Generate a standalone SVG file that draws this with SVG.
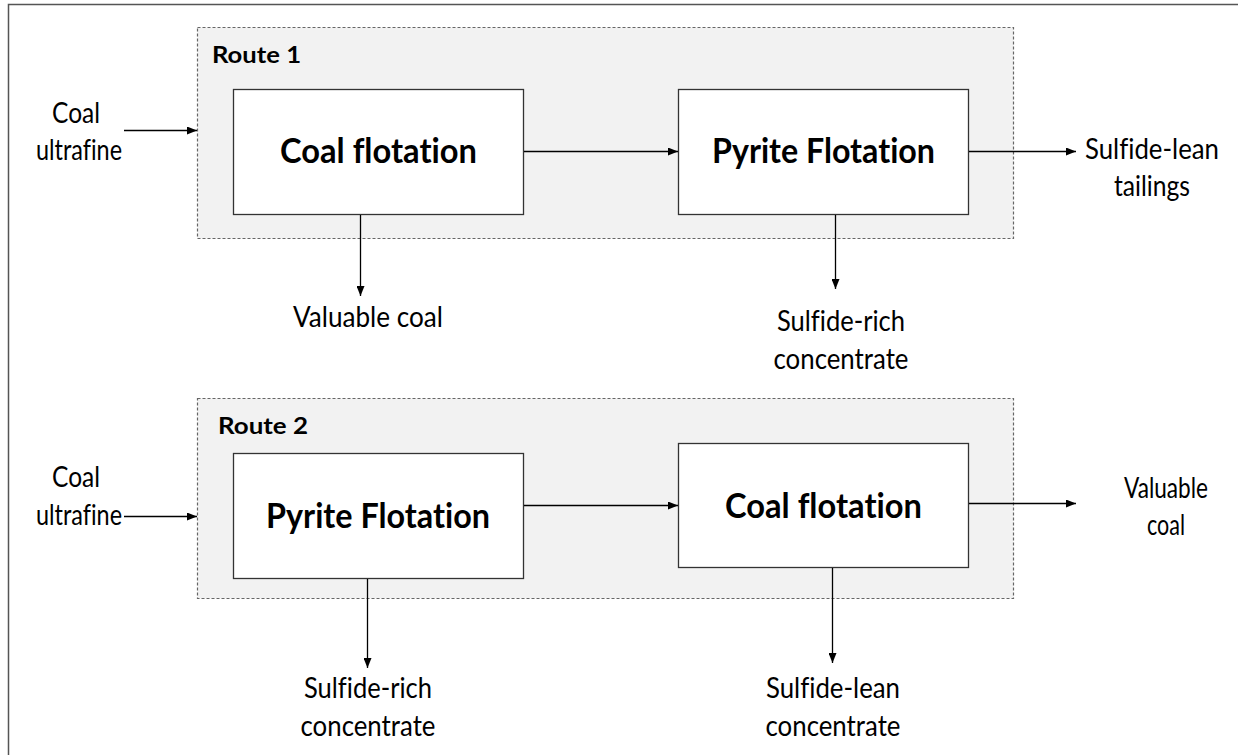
<svg xmlns="http://www.w3.org/2000/svg" width="1238" height="755" viewBox="0 0 1238 755">
<defs>
<marker id="ah" viewBox="0 0 10 8" refX="10" refY="4" markerWidth="10" markerHeight="8" markerUnits="userSpaceOnUse" orient="auto">
<path d="M0,0 L10,4 L0,8 Z" fill="#000"/>
</marker>
<style>
text{font-variant-ligatures:none;font-feature-settings:"liga" 0,"clig" 0,"dlig" 0}
.frame{fill:none;stroke:#555;stroke-width:1.5}
.route{fill:#f2f2f2;stroke:#666;stroke-width:1.2;stroke-dasharray:3,2}
.box{fill:#fff;stroke:#333;stroke-width:1.3}
.conn{fill:none;stroke:#000;stroke-width:1.3;marker-end:url(#ah)}
.lbl{font-family:Lato,"Liberation Sans",sans-serif;font-size:28px;fill:#000;text-anchor:middle}
.big{font-family:Lato,"Liberation Sans",sans-serif;font-size:34px;font-weight:bold;fill:#000;text-anchor:middle}
.rt{font-family:Lato,"Liberation Sans",sans-serif;font-size:23px;font-weight:bold;fill:#000}
</style>
</defs>
<rect class="frame" x="8.5" y="4.5" width="1260" height="780"/>

<g id="route1">
<rect class="route" x="197.5" y="27.5" width="816" height="211"/>
<text class="rt" x="212" y="63" textLength="89" lengthAdjust="spacingAndGlyphs">Route 1</text>
</g>
<g id="route2">
<rect class="route" x="197.5" y="398.5" width="816" height="200"/>
<text class="rt" x="218" y="434" textLength="90" lengthAdjust="spacingAndGlyphs">Route 2</text>
</g>

<g id="r1-coal">
<rect class="box" x="233.5" y="89.5" width="290" height="125"/>
<text class="big" x="378.5" y="163" textLength="197" lengthAdjust="spacingAndGlyphs">Coal flotation</text>
</g>
<g id="r1-pyrite">
<rect class="box" x="678.5" y="89.5" width="290" height="125"/>
<text class="big" x="823.5" y="163" textLength="223" lengthAdjust="spacingAndGlyphs">Pyrite Flotation</text>
</g>
<g id="r2-pyrite">
<rect class="box" x="233.5" y="453.5" width="290" height="125"/>
<text class="big" x="378" y="528" textLength="224" lengthAdjust="spacingAndGlyphs">Pyrite Flotation</text>
</g>
<g id="r2-coal">
<rect class="box" x="678.5" y="443.5" width="290" height="124"/>
<text class="big" x="823.5" y="518" textLength="197" lengthAdjust="spacingAndGlyphs">Coal flotation</text>
</g>

<g id="labels">
<text class="lbl" x="76" y="123" textLength="48" lengthAdjust="spacingAndGlyphs">Coal</text>
<text class="lbl" x="79" y="160" textLength="86" lengthAdjust="spacingAndGlyphs">ultrafine</text>
<text class="lbl" x="1152" y="159" textLength="134" lengthAdjust="spacingAndGlyphs">Sulfide-lean</text>
<text class="lbl" x="1152" y="196" textLength="76" lengthAdjust="spacingAndGlyphs">tailings</text>
<text class="lbl" x="368" y="327" textLength="150" lengthAdjust="spacingAndGlyphs">Valuable coal</text>
<text class="lbl" x="841" y="331" textLength="128" lengthAdjust="spacingAndGlyphs">Sulfide-rich</text>
<text class="lbl" x="841" y="369" textLength="135" lengthAdjust="spacingAndGlyphs">concentrate</text>
<text class="lbl" x="76" y="487" textLength="48" lengthAdjust="spacingAndGlyphs">Coal</text>
<text class="lbl" x="79" y="525" textLength="86" lengthAdjust="spacingAndGlyphs">ultrafine</text>
<text class="lbl" x="1166" y="498" textLength="84" lengthAdjust="spacingAndGlyphs">Valuable</text>
<text class="lbl" x="1166" y="535" textLength="38" lengthAdjust="spacingAndGlyphs">coal</text>
<text class="lbl" x="368" y="698" textLength="128" lengthAdjust="spacingAndGlyphs">Sulfide-rich</text>
<text class="lbl" x="368" y="736" textLength="135" lengthAdjust="spacingAndGlyphs">concentrate</text>
<text class="lbl" x="833" y="698" textLength="134" lengthAdjust="spacingAndGlyphs">Sulfide-lean</text>
<text class="lbl" x="833" y="736" textLength="135" lengthAdjust="spacingAndGlyphs">concentrate</text>
</g>

<g id="connectors">
<line class="conn" x1="124" y1="130.5" x2="197" y2="130.5"/>
<line class="conn" x1="524" y1="151.5" x2="678" y2="151.5"/>
<line class="conn" x1="969" y1="151.5" x2="1076" y2="151.5"/>
<line class="conn" x1="360.5" y1="215" x2="360.5" y2="296"/>
<line class="conn" x1="835.5" y1="215" x2="835.5" y2="289"/>
<line class="conn" x1="124" y1="516.5" x2="197" y2="516.5"/>
<line class="conn" x1="524" y1="505.5" x2="678" y2="505.5"/>
<line class="conn" x1="969" y1="503.5" x2="1076" y2="503.5"/>
<line class="conn" x1="367.5" y1="579" x2="367.5" y2="668"/>
<line class="conn" x1="832.5" y1="568" x2="832.5" y2="663"/>
</g>
</svg>
